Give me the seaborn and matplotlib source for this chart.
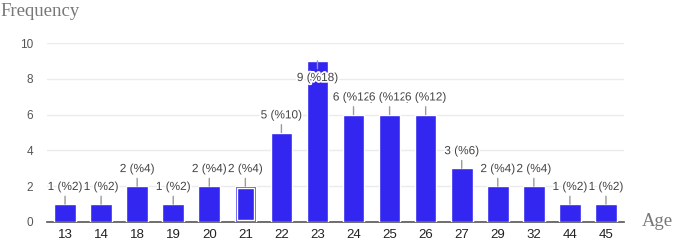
import matplotlib
matplotlib.use("Agg")
import matplotlib.pyplot as plt
import matplotlib.patheffects as pe
from matplotlib.patches import Rectangle
import seaborn as sns
import pandas as pd

ages = ["13", "14", "18", "19", "20", "21", "22", "23", "24", "25", "26", "27", "29", "32", "44", "45"]
counts = [1, 1, 2, 1, 2, 2, 5, 9, 6, 6, 6, 3, 2, 2, 1, 1]
percents = [2, 2, 4, 2, 4, 4, 10, 18, 12, 12, 12, 6, 4, 4, 2, 2]
y_ticks = [0, 2, 4, 6, 8, 10]
highlight = "21"

sns.set_theme(style="white")
plt.rcParams["font.family"] = ["Liberation Sans", "DejaVu Sans"]

df = pd.DataFrame({"age": ages, "count": counts, "pct": percents})

fig = plt.figure(figsize=(6.73, 2.42), dpi=100)
ax = fig.add_axes([47 / 673, 1 - 222 / 242, (624 - 47) / 673, (222 - 43) / 242])

bar_color = "#3226F0"
sns.barplot(data=df, x="age", y="count", order=ages, color=bar_color,
            saturation=1, width=0.6, ax=ax, zorder=3)

ax.set_ylim(0, 10)
ax.set_xlim(-0.5, len(ages) - 0.5)
ax.set_yticks(y_ticks)
ax.yaxis.grid(True, color="#ebebeb", linewidth=1, zorder=0)
ax.set_axisbelow(True)
for s in ["left", "right", "top"]:
    ax.spines[s].set_visible(False)
ax.spines["bottom"].set_color("#555555")
ax.spines["bottom"].set_linewidth(1.2)
ax.set_xlabel("")
ax.set_ylabel("")
ax.tick_params(axis="y", length=0, pad=10, labelsize=8.5, labelcolor="#555555")
ax.tick_params(axis="x", length=0, pad=5, labelsize=9.5, labelcolor="#222222")

# highlighted bar: inner white outline
for patch, a in zip(ax.patches, ages):
    if a == highlight:
        x0, y0 = patch.get_x(), patch.get_y()
        w, h = patch.get_width(), patch.get_height()
        dx, dy = 0.06, 0.12
        ax.add_patch(Rectangle((x0 + dx, y0 + dy), w - 2 * dx, h - 2 * dy,
                               fill=False, edgecolor="white", linewidth=1.0, zorder=4))

# value labels with leader lines
for i, (c, p) in enumerate(zip(counts, percents)):
    label = f"{c} (%{p})"
    if c >= 9:
        off = (0, -8)
        va = "top"
    else:
        off = (0, 8)
        va = "bottom"
    ax.annotate(label, xy=(i, c), xytext=off, textcoords="offset points",
                ha="center", va=va, fontsize=8.5, color="#444444",
                path_effects=[pe.withStroke(linewidth=2.5, foreground="white")],
                arrowprops=dict(arrowstyle="-", color="#9a9a9a", lw=1,
                                shrinkA=0, shrinkB=0),
                zorder=5, annotation_clip=False)

fig.text(0.0, 1 - 12 / 242, "Frequency", family=["Liberation Serif", "DejaVu Serif"],
         fontsize=13.5, color="#777777", ha="left", va="center")
fig.text(642 / 673, 1 - 222 / 242, "Age", family=["Liberation Serif", "DejaVu Serif"],
         fontsize=13.5, color="#777777", ha="left", va="center")

fig.savefig("out.png", dpi=100)
